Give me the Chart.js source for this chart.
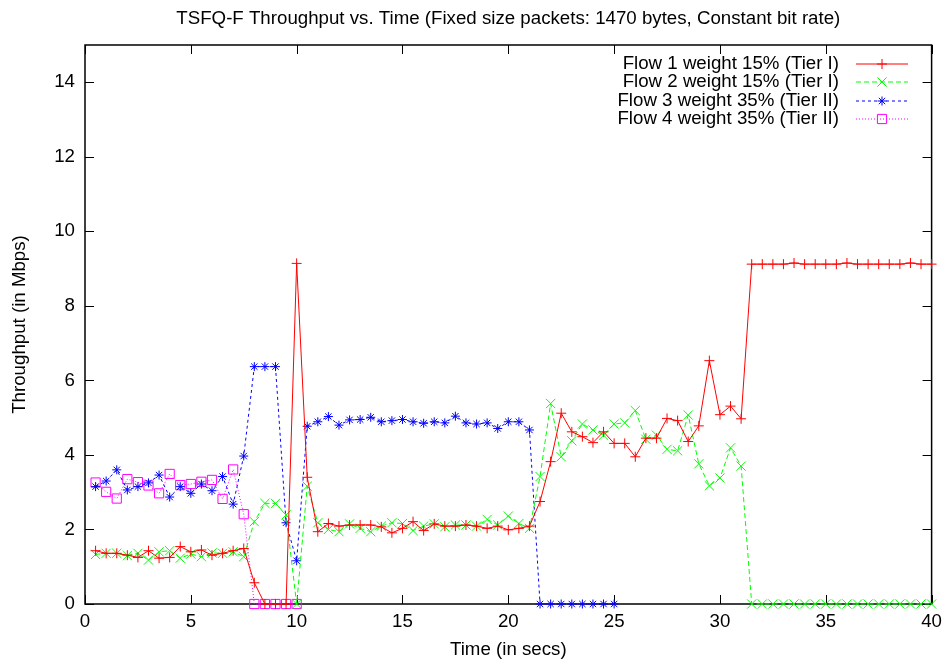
<!DOCTYPE html>
<html>
<head>
<meta charset="utf-8">
<title>TSFQ-F Throughput vs. Time</title>
<script src="https://cdn.jsdelivr.net/npm/chart.js@4/dist/chart.umd.min.js"></script>
<style>
  html, body { margin: 0; padding: 0; background: #fff; }
  #wrap { width: 949px; height: 663px; }
</style>
</head>
<body>
<div id="wrap"><canvas id="tputChart" width="949" height="663"></canvas></div>
<script>
var FONT = "'Liberation Sans', Arial, Helvetica, sans-serif";
var FSIZE = 18.7;

var titleText = "TSFQ-F Throughput vs. Time (Fixed size packets: 1470 bytes, Constant bit rate)";
var xLabel = "Time (in secs)";
var yLabel = "Throughput (in Mbps)";

var seriesNames = [
  "Flow 1 weight 15% (Tier I)",
  "Flow 2 weight 15% (Tier I)",
  "Flow 3 weight 35% (Tier II)",
  "Flow 4 weight 35% (Tier II)"
];

// sample times (secs)
var times = [
  0.5, 1, 1.5, 2, 2.5, 3, 3.5, 4, 4.5, 5,
  5.5, 6, 6.5, 7, 7.5, 8, 8.5, 9, 9.5, 10,
  10.5, 11, 11.5, 12, 12.5, 13, 13.5, 14, 14.5, 15,
  15.5, 16, 16.5, 17, 17.5, 18, 18.5, 19, 19.5, 20,
  20.5, 21, 21.5, 22, 22.5, 23, 23.5, 24, 24.5, 25,
  25.5, 26, 26.5, 27, 27.5, 28, 28.5, 29, 29.5, 30,
  30.5, 31, 31.5, 32, 32.5, 33, 33.5, 34, 34.5, 35,
  35.5, 36, 36.5, 37, 37.5, 38, 38.5, 39, 39.5, 40
];

var flow1 = [
  1.43, 1.36, 1.36, 1.31, 1.25, 1.43, 1.23, 1.25, 1.54, 1.40,
  1.45, 1.31, 1.36, 1.43, 1.49, 0.57, 0, 0, 0, 9.14,
  3.40, 1.94, 2.16, 2.09, 2.12, 2.12, 2.12, 2.07, 1.91, 2.03,
  2.21, 1.97, 2.15, 2.09, 2.09, 2.12, 2.09, 2.03, 2.09, 1.99,
  2.03, 2.09, 2.75, 3.82, 5.12, 4.62, 4.49, 4.33, 4.62, 4.31,
  4.31, 3.95, 4.45, 4.45, 4.98, 4.92, 4.36, 4.78, 6.53, 5.08,
  5.31, 4.97, 9.12, 9.12, 9.12, 9.12, 9.15, 9.12, 9.12, 9.12,
  9.12, 9.15, 9.12, 9.12, 9.12, 9.12, 9.12, 9.15, 9.12, 9.12
];

var flow2 = [
  1.33, 1.36, 1.36, 1.30, 1.36, 1.18, 1.40, 1.43, 1.23, 1.34,
  1.27, 1.37, 1.36, 1.40, 1.27, 2.21, 2.70, 2.70, 2.39, 0,
  3.16, 2.18, 2.00, 1.94, 2.15, 2.03, 1.94, 2.09, 2.18, 2.16,
  1.97, 2.09, 2.15, 2.07, 2.12, 2.12, 2.09, 2.27, 2.12, 2.36,
  2.16, 2.03, 3.42, 5.38, 3.95, 4.38, 4.83, 4.67, 4.53, 4.83,
  4.86, 5.19, 4.42, 4.53, 4.15, 4.11, 5.07, 3.76, 3.17, 3.38,
  4.19, 3.70, 0, 0, 0, 0, 0, 0, 0, 0,
  0, 0, 0, 0, 0, 0, 0, 0, 0, 0
];

var flow3 = [
  3.15, 3.30, 3.60, 3.06, 3.15, 3.25, 3.46, 2.87, 3.15, 2.97,
  3.22, 3.04, 3.42, 2.68, 3.97, 6.37, 6.37, 6.37, 2.18, 1.16,
  4.77, 4.89, 5.03, 4.80, 4.94, 4.95, 5.01, 4.89, 4.92, 4.95,
  4.89, 4.85, 4.89, 4.86, 5.04, 4.86, 4.83, 4.86, 4.71, 4.89,
  4.89, 4.67, 0, 0, 0, 0, 0, 0, 0, 0
];

var flow4 = [
  3.26, 3.01, 2.83, 3.35, 3.27, 3.18, 2.97, 3.49, 3.19, 3.22,
  3.28, 3.33, 2.82, 3.61, 2.41, 0, 0, 0, 0, 0
];

var xTicks = [0, 5, 10, 15, 20, 25, 30, 35, 40];
var yTicks = [0, 2, 4, 6, 8, 10, 12, 14];

function pairs(values) {
  var out = [];
  for (var i = 0; i < values.length; i++) {
    out.push({ x: times[i], y: values[i] });
  }
  return out;
}

function series(label, values, color, dash, style, radius) {
  return {
    label: label,
    data: pairs(values),
    borderColor: color,
    backgroundColor: color,
    borderWidth: 1,
    borderDash: dash,
    pointStyle: style,
    pointRadius: radius,
    pointHoverRadius: radius,
    pointBorderColor: color,
    pointBackgroundColor: "rgba(0,0,0,0)",
    pointBorderWidth: 1,
    tension: 0,
    clip: false
  };
}

// gnuplot-like frame with inward ticks on all four sides
var framePlugin = {
  id: "frame",
  beforeDatasetsDraw: function (chart) {
    var ctx = chart.ctx;
    var a = chart.chartArea;
    var xs = chart.scales.x, ys = chart.scales.y;
    var tl = 9;
    ctx.save();
    ctx.strokeStyle = "#000";
    ctx.lineWidth = 1.5;
    ctx.strokeRect(a.left, a.top, a.right - a.left, a.bottom - a.top);
    ctx.lineWidth = 1;
    ctx.beginPath();
    xTicks.forEach(function (v) {
      var px = Math.round(xs.getPixelForValue(v)) + 0.5;
      ctx.moveTo(px, a.bottom); ctx.lineTo(px, a.bottom - tl);
      ctx.moveTo(px, a.top); ctx.lineTo(px, a.top + tl);
    });
    yTicks.forEach(function (v) {
      var py = Math.round(ys.getPixelForValue(v)) + 0.5;
      ctx.moveTo(a.left, py); ctx.lineTo(a.left + tl, py);
      ctx.moveTo(a.right, py); ctx.lineTo(a.right - tl, py);
    });
    ctx.stroke();
    ctx.restore();
  },
  afterDraw: function (chart) {
    var ctx = chart.ctx;
    var a = chart.chartArea;
    ctx.save();
    ctx.fillStyle = "#000";
    ctx.font = FSIZE + "px " + FONT;
    ctx.textAlign = "center";
    ctx.textBaseline = "middle";
    ctx.fillText(titleText, (a.left + a.right) / 2, 19);

    // key, text on the left of the sample as gnuplot does
    var textRight = 839, x0 = 856, x1 = 908, y0 = 63.5, step = 18.6;
    chart.data.datasets.forEach(function (ds, i) {
      var y = y0 + i * step;
      ctx.fillStyle = "#000";
      ctx.textAlign = "right";
      ctx.fillText(ds.label, textRight, y);
      ctx.strokeStyle = ds.borderColor;
      ctx.lineWidth = 1;
      ctx.setLineDash(ds.borderDash || []);
      ctx.beginPath();
      ctx.moveTo(x0, Math.round(y));
      ctx.lineTo(x1, Math.round(y));
      ctx.stroke();
      ctx.setLineDash([]);
      ctx.fillStyle = "rgba(0,0,0,0)";
      Chart.helpers.drawPoint(ctx, {
        pointStyle: ds.pointStyle,
        radius: ds.pointRadius,
        borderWidth: 1,
        rotation: 0
      }, (x0 + x1) / 2, Math.round(y));
    });
    ctx.restore();
  }
};

document.addEventListener("DOMContentLoaded", function () {
  var canvas = document.getElementById("tputChart");
  if (!canvas) return;

  new Chart(canvas.getContext("2d"), {
    type: "line",
    data: {
      datasets: [
        series(seriesNames[0], flow1, "#ff0000", [], "cross", 5),
        series(seriesNames[1], flow2, "#00ff00", [5, 3], "crossRot", 6.5),
        series(seriesNames[2], flow3, "#0000ff", [3, 3], "star", 4.5),
        series(seriesNames[3], flow4, "#ff00ff", [1, 2], "rect", 6.5)
      ]
    },
    options: {
      responsive: false,
      animation: false,
      events: [],
      layout: { padding: { top: 45, right: 15, left: 0, bottom: 0 } },
      plugins: {
        legend: { display: false },
        title: { display: false },
        tooltip: { enabled: false }
      },
      scales: {
        x: {
          type: "linear",
          min: 0,
          max: 40,
          grid: { display: false, drawTicks: false },
          border: { display: false },
          ticks: {
            stepSize: 5,
            padding: 7,
            maxRotation: 0,
            color: "#000",
            font: { family: FONT, size: FSIZE }
          },
          title: {
            display: true,
            text: xLabel,
            color: "#000",
            font: { family: FONT, size: FSIZE },
            padding: { top: 0, bottom: 2 }
          },
          afterFit: function (scale) { scale.height = 59; }
        },
        y: {
          min: 0,
          max: 15,
          grid: { display: false, drawTicks: false },
          border: { display: false },
          ticks: {
            stepSize: 2,
            padding: 10,
            color: "#000",
            font: { family: FONT, size: FSIZE }
          },
          afterBuildTicks: function (scale) {
            scale.ticks = yTicks.map(function (v) { return { value: v }; });
          },
          title: {
            display: true,
            text: yLabel,
            color: "#000",
            font: { family: FONT, size: FSIZE },
            padding: { top: 9, bottom: 0 }
          },
          afterFit: function (scale) { scale.width = 85; }
        }
      }
    },
    plugins: [framePlugin]
  });
});
</script>
</body>
</html>
